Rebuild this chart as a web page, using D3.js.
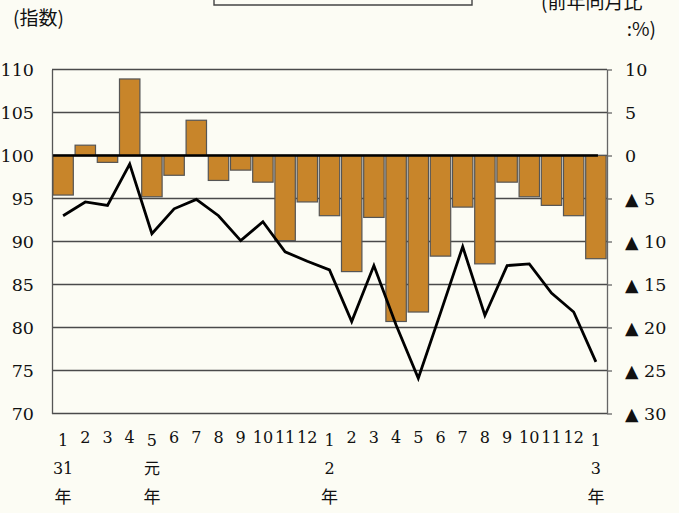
<!DOCTYPE html>
<html>
<head>
<meta charset="utf-8">
<script src="https://cdn.jsdelivr.net/npm/d3@7"></script>
<style>
  body { margin: 0; background: #fcfcf4; }
  svg { display: block; }
</style>
</head>
<body>
<div class="chart"></div>
<script>
// months along the x axis (Jan H31 .. Jan R3)
var months = ["1","2","3","4","5","6","7","8","9","10","11","12",
              "1","2","3","4","5","6","7","8","9","10","11","12","1"];
// year labels under certain months
var yearIdx = [0, 4, 12, 24];
var yearTop = ["31", "元", "2", "3"];
var yearBottom = ["年", "年", "年", "年"];

// index (line, left axis)
var indexVals = [93.0, 94.6, 94.2, 99.0, 90.9, 93.8, 94.9, 93.0, 90.1, 92.3, 88.8, 87.7,
                 86.7, 80.7, 87.2, 80.3, 74.1, 81.7, 89.4, 81.4, 87.2, 87.4, 84.0, 81.8, 76.0];
// year-on-year change % (bars, right axis)
var yoyVals = [-4.6, 1.2, -0.8, 8.9, -4.8, -2.3, 4.1, -2.9, -1.7, -3.1, -9.9, -5.4,
               -7.0, -13.5, -7.2, -19.3, -18.2, -11.7, -6.0, -12.6, -3.1, -4.8, -5.8, -7.0, -12.0];

var leftTicks = [70, 75, 80, 85, 90, 95, 100, 105, 110];
var rightTicks = [-30, -25, -20, -15, -10, -5, 0, 5, 10];

var SERIF = "'DejaVu Serif', 'Liberation Serif', serif";
var JP = "'Noto Sans CJK JP', 'Noto Sans', sans-serif";

var svgWidth = 679, svgHeight = 513;
var plot = {left: 52, right: 607, top: 69.5, bottom: 413.5};

var svg = d3.select(".chart").append("svg")
    .attr("width", svgWidth)
    .attr("height", svgHeight);

svg.append("rect").attr("width", svgWidth).attr("height", svgHeight).attr("fill", "#fcfcf4");

var x = d3.scaleBand()
    .domain(d3.range(months.length))
    .range([plot.left, plot.right])
    .paddingInner(0.08)
    .paddingOuter(0.04);

var yLeft = d3.scaleLinear().domain([70, 110]).range([plot.bottom, plot.top]);
var yRight = d3.scaleLinear().domain([-30, 10]).range([plot.bottom, plot.top]);

// grid lines
svg.append("g")
    .selectAll("line")
    .data(leftTicks)
    .enter().append("line")
    .attr("x1", plot.left).attr("x2", plot.right)
    .attr("y1", function(d) { return yLeft(d); })
    .attr("y2", function(d) { return yLeft(d); })
    .attr("stroke", "#4a4a4a")
    .attr("stroke-width", 1.3);

// bars
svg.append("g")
    .selectAll("rect")
    .data(yoyVals)
    .enter().append("rect")
    .attr("x", function(d, i) { return x(i); })
    .attr("width", x.bandwidth())
    .attr("y", function(d) { return yRight(Math.max(0, d)); })
    .attr("height", function(d) { return Math.abs(yRight(d) - yRight(0)); })
    .attr("fill", "#c8852a")
    .attr("stroke", "#555")
    .attr("stroke-width", 1.2);

// zero line
svg.append("line")
    .attr("x1", plot.left)
    .attr("x2", x(months.length - 1) + x.bandwidth() * 0.6)
    .attr("y1", yRight(0)).attr("y2", yRight(0))
    .attr("stroke", "#000")
    .attr("stroke-width", 2.6);

// left axis
var leftAxis = d3.axisLeft(yLeft).tickValues(leftTicks).tickSize(0).tickPadding(18);
var gl = svg.append("g")
    .attr("transform", "translate(" + plot.left + ",0)")
    .call(leftAxis);
gl.attr("font-family", SERIF).attr("font-size", 17.5);
gl.select(".domain").attr("stroke", "#555").attr("stroke-width", 1.3);
gl.selectAll("text").attr("fill", "#111");

// right axis
var rightAxis = d3.axisRight(yRight).tickValues(rightTicks).tickSizeInner(5).tickSizeOuter(0).tickPadding(13)
    .tickFormat(function(d) { return d < 0 ? "▲ " + (-d) : String(d); });
var gr = svg.append("g")
    .attr("transform", "translate(" + plot.right + ",0)")
    .call(rightAxis);
gr.attr("font-family", SERIF).attr("font-size", 17.5);
gr.select(".domain").attr("stroke", "#666").attr("stroke-width", 1.3);
gr.selectAll(".tick line").attr("stroke", "#666").attr("stroke-width", 1.3);
gr.selectAll("text").attr("fill", "#111");

// index line
var line = d3.line()
    .x(function(d, i) { return x(i) + x.bandwidth() / 2; })
    .y(function(d) { return yLeft(d); });

svg.append("path")
    .datum(indexVals)
    .attr("d", line)
    .attr("fill", "none")
    .attr("stroke", "#000")
    .attr("stroke-width", 2.8)
    .attr("stroke-linejoin", "miter");

// month labels
svg.append("g")
    .attr("font-family", SERIF)
    .attr("font-size", 16)
    .selectAll("text")
    .data(months)
    .enter().append("text")
    .attr("fill", "#111")
    .attr("text-anchor", "middle")
    .attr("x", function(d, i) { return x(i) + x.bandwidth() / 2; })
    .attr("y", function(d, i) { return yearIdx.indexOf(i) >= 0 ? 446 : 443; })
    .text(function(d) { return d; });

// year labels
svg.append("g")
    .attr("font-size", 16)
    .selectAll("text")
    .data(yearTop)
    .enter().append("text")
    .attr("font-family", function(d) { return d === "元" ? JP : SERIF; })
    .attr("fill", "#111")
    .attr("text-anchor", "middle")
    .attr("x", function(d, i) { return x(yearIdx[i]) + x.bandwidth() / 2; })
    .attr("y", 474)
    .text(function(d) { return d; });

svg.append("g")
    .attr("font-family", JP)
    .attr("font-size", 17)
    .selectAll("text")
    .data(yearBottom)
    .enter().append("text")
    .attr("fill", "#111")
    .attr("text-anchor", "middle")
    .attr("x", function(d, i) { return x(yearIdx[i]) + x.bandwidth() / 2; })
    .attr("y", 503)
    .text(function(d) { return d; });

// axis titles
svg.append("text").attr("font-family", JP).attr("font-size", 19).attr("fill", "#111")
    .attr("x", 13).attr("y", 25).text("(指数)");
svg.append("text").attr("font-family", JP).attr("font-size", 19).attr("fill", "#111")
    .attr("x", 541).attr("y", 9).text("(前年同月比");
svg.append("text").attr("font-family", JP).attr("font-size", 19).attr("fill", "#111")
    .attr("text-anchor", "end")
    .attr("x", 656).attr("y", 36).text(":%)");

// legend box, cut off at the top of the picture
svg.append("path")
    .attr("d", "M214,-2 V5 H472 V-2")
    .attr("fill", "none")
    .attr("stroke", "#444")
    .attr("stroke-width", 1.4);
</script>
</body>
</html>
